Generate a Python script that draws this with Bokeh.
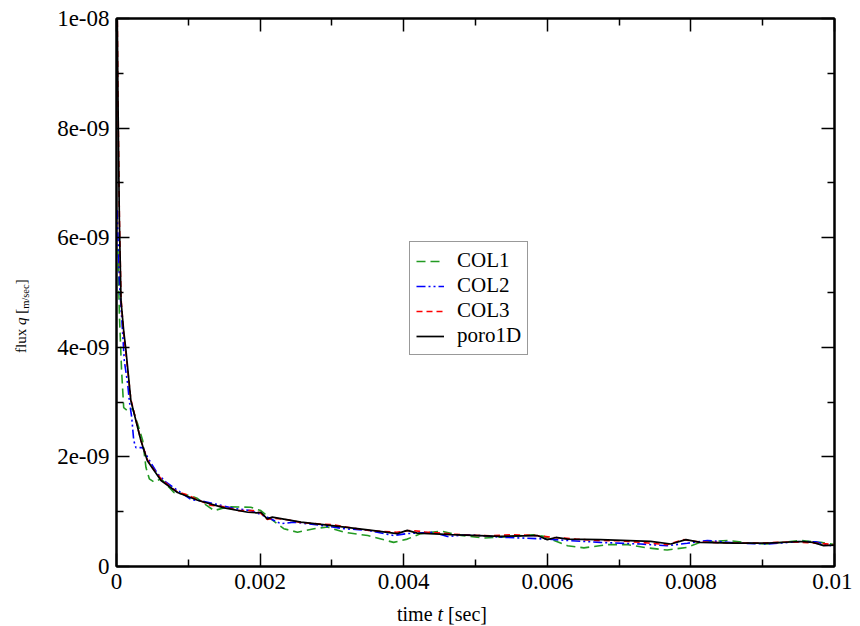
import numpy as np
from bokeh.plotting import figure
from bokeh.models import (Range1d, LinearAxis, FixedTicker, CustomJSTickFormatter,
                          Legend, LegendItem, Div)
from bokeh.layouts import row, column
from bokeh.embed import file_html
from bokeh.resources import INLINE

# ---------------- data (flux values in units of 1e-9 m/sec) ----------------
col1_t = [0.00002, 0.00004, 0.00007, 0.0001, 0.000156, 0.000225, 0.000295, 0.000365,
          0.00041, 0.000457, 0.000526, 0.00062, 0.0008, 0.00104, 0.00113, 0.00125,
          0.00136, 0.00155, 0.00187, 0.00201, 0.00215, 0.00233, 0.00252, 0.00275,
          0.00294, 0.00317, 0.0035, 0.00386, 0.00405, 0.00424, 0.00452, 0.0048,
          0.00511, 0.00535, 0.00581, 0.00595, 0.00628, 0.00651, 0.00684, 0.00711,
          0.00739, 0.00767, 0.00795, 0.00813, 0.00851, 0.00883, 0.00906, 0.00953,
          0.00981, 0.01]
col1_q = [5.8, 4.6, 3.6, 2.9, 2.84, 2.88, 2.6, 2.3,
          1.81, 1.60, 1.54, 1.60, 1.35, 1.29, 1.24, 1.12,
          1.02, 1.09, 1.08, 1.02, 0.87, 0.69, 0.625, 0.69,
          0.72, 0.625, 0.565, 0.44, 0.50, 0.60, 0.645, 0.565,
          0.52, 0.535, 0.58, 0.55, 0.38, 0.34, 0.40, 0.40,
          0.34, 0.30, 0.35, 0.44, 0.475, 0.425, 0.41, 0.475,
          0.44, 0.40]

col2_t = [0.00001, 0.00004, 0.000086, 0.000109, 0.000156, 0.000178, 0.000212, 0.00024,
          0.00027, 0.000365, 0.000434, 0.000573, 0.00069, 0.00085, 0.00104, 0.001176,
          0.00164, 0.00187, 0.0021, 0.00229, 0.00247, 0.00285, 0.00317, 0.0035,
          0.00386, 0.00405, 0.00442, 0.00461, 0.00489, 0.00535, 0.006, 0.00628,
          0.00674, 0.0073, 0.00767, 0.00795, 0.00823, 0.0086, 0.00906, 0.00953,
          0.00974, 0.01]
col2_q = [6.5, 5.2, 4.25, 3.75, 3.33, 3.03, 2.72, 2.30,
          2.17, 2.17, 1.99, 1.69, 1.54, 1.39, 1.22, 1.20,
          1.06, 1.02, 0.90, 0.78, 0.81, 0.75, 0.69, 0.66,
          0.565, 0.60, 0.625, 0.547, 0.58, 0.535, 0.50, 0.475,
          0.44, 0.41, 0.38, 0.425, 0.475, 0.43, 0.41, 0.456,
          0.45, 0.365]

col3_t = [0.000008, 0.00002, 0.00004, 0.000063, 0.0001, 0.00013, 0.0002, 0.00034,
          0.00043, 0.0005, 0.00062, 0.00075, 0.00085, 0.001, 0.00113, 0.0013,
          0.0015, 0.0017, 0.0019, 0.00201, 0.0021, 0.0022, 0.0024, 0.00257,
          0.0028, 0.00303, 0.0032, 0.0035, 0.0037, 0.0039, 0.0041, 0.0043,
          0.0046, 0.0049, 0.0052, 0.0055, 0.0058, 0.0061, 0.0064, 0.0067,
          0.007, 0.0074, 0.00767, 0.0079, 0.0081, 0.0085, 0.009, 0.0094,
          0.0097, 0.01]
col3_q = [10.5, 8.6, 6.4, 4.9, 4.25, 3.9, 3.05, 2.3,
          1.95, 1.80, 1.60, 1.45, 1.36, 1.30, 1.22, 1.12,
          1.09, 1.02, 1.02, 0.97, 0.86, 0.88, 0.85, 0.80,
          0.78, 0.76, 0.72, 0.66, 0.64, 0.625, 0.66, 0.63,
          0.60, 0.57, 0.56, 0.58, 0.57, 0.53, 0.50, 0.475,
          0.47, 0.43, 0.40, 0.49, 0.45, 0.43, 0.43, 0.45,
          0.43, 0.40]

poro_t = [0.000008, 0.00002, 0.00004, 0.000063, 0.0001, 0.000132, 0.0002, 0.00034,
          0.00043, 0.00062, 0.00085, 0.00113, 0.0015, 0.00183, 0.00195, 0.00201,
          0.0021, 0.00217, 0.00257, 0.00303, 0.0035, 0.00391, 0.00405, 0.00419,
          0.00466, 0.00535, 0.00586, 0.006, 0.00612, 0.00628, 0.00674, 0.00744,
          0.00772, 0.00793, 0.00813, 0.0086, 0.00906, 0.00953, 0.0097, 0.00985,
          0.01]
poro_q = [10.5, 8.6, 6.3, 4.85, 4.3, 3.94, 3.03, 2.30,
          1.93, 1.57, 1.35, 1.21, 1.07, 0.99, 0.98, 0.99,
          0.87, 0.90, 0.81, 0.74, 0.67, 0.60, 0.66, 0.61,
          0.58, 0.55, 0.565, 0.49, 0.53, 0.50, 0.49, 0.46,
          0.41, 0.49, 0.44, 0.425, 0.425, 0.456, 0.44, 0.38,
          0.39]

series_names = ["COL1", "COL2", "COL3", "poro1D"]

x_ticks = [0, 0.002, 0.004, 0.006, 0.008, 0.01]
x_tick_labels = ["0", "0.002", "0.004", "0.006", "0.008", "0.01"]
y_ticks = [0, 2e-9, 4e-9, 6e-9, 8e-9, 1e-8]
y_tick_labels = ["0", "2e-09", "4e-09", "6e-09", "8e-09", "1e-08"]

NANO = 1e-9

# ---------------- layout constants ----------------
YDIV_W = 44            # column holding the rotated y title
W, H = 808, 602        # figure
BL, BR, BT, BB = 72, 18, 18, 36
XDIV_H = 22
SERIF = "Liberation Serif"

p = figure(width=W, height=H, x_range=Range1d(0, 0.01), y_range=Range1d(0, 1e-8),
           output_backend="svg", toolbar_location=None,
           min_border_left=BL, min_border_right=BR, min_border_top=BT, min_border_bottom=BB)
p.xgrid.visible = False
p.ygrid.visible = False
p.outline_line_color = "black"
p.outline_line_width = 2
p.background_fill_color = "white"
p.border_fill_color = "white"

js_code = """
let best = 0, bd = Infinity;
for (let i = 0; i < tv.length; i++) {
  const d = Math.abs(tv[i] - tick);
  if (d < bd) { bd = d; best = i; }
}
return tl[best];
"""
x_minor = [(a + b) / 2 for a, b in zip(x_ticks, x_ticks[1:])]
y_minor = [(a + b) / 2 for a, b in zip(y_ticks, y_ticks[1:])]
xticker = FixedTicker(ticks=x_ticks, minor_ticks=x_minor)
yticker = FixedTicker(ticks=y_ticks, minor_ticks=y_minor)
xfmt = CustomJSTickFormatter(args=dict(tv=x_ticks, tl=x_tick_labels), code=js_code)
yfmt = CustomJSTickFormatter(args=dict(tv=y_ticks, tl=y_tick_labels), code=js_code)


def style_axis(ax, show_labels=True):
    ax.axis_line_color = "black"
    ax.axis_line_width = 2
    ax.major_tick_in = 13
    ax.major_tick_out = 0
    ax.minor_tick_in = 7
    ax.minor_tick_out = 0
    ax.major_tick_line_color = "black"
    ax.minor_tick_line_color = "black"
    ax.major_tick_line_width = 1.5
    ax.minor_tick_line_width = 1.5
    ax.major_label_text_font = SERIF
    if show_labels:
        ax.major_label_text_font_size = "23px"
        ax.major_label_text_color = "black"
    else:
        ax.major_label_text_font_size = "1px"
        ax.major_label_text_color = None
        ax.major_label_standoff = 0


p.xaxis.ticker = xticker
p.xaxis.formatter = xfmt
p.yaxis.ticker = yticker
p.yaxis.formatter = yfmt
for ax in p.xaxis:
    style_axis(ax)
    ax.major_label_standoff = 7
for ax in p.yaxis:
    style_axis(ax)
    ax.major_label_standoff = 7

top = LinearAxis(ticker=xticker, formatter=xfmt)
style_axis(top, show_labels=False)
p.add_layout(top, "above")
right = LinearAxis(ticker=yticker, formatter=yfmt)
style_axis(right, show_labels=False)
p.add_layout(right, "right")

# ---------------- curves ----------------
r1 = p.line(col1_t, np.array(col1_q) * NANO, line_color="#229a22", line_width=1.6, line_dash="9 5")
r2 = p.line(col2_t, np.array(col2_q) * NANO, line_color="#0000ff", line_width=1.6, line_dash="9 3 2 3 2 3")
r3 = p.line(col3_t, np.array(col3_q) * NANO, line_color="#ff0000", line_width=1.6, line_dash="6 4")
r4 = p.line(poro_t, np.array(poro_q) * NANO, line_color="black", line_width=1.7)

legend = Legend(items=[LegendItem(label=n, renderers=[r]) for n, r in zip(series_names, [r1, r2, r3, r4])],
                location=(293, 211), orientation="vertical",
                label_text_font=SERIF, label_text_font_size="21px", label_text_color="black",
                glyph_width=28, glyph_height=20, label_height=20, label_standoff=13,
                spacing=0, padding=6, margin=0,
                border_line_color="#333333", border_line_width=1,
                background_fill_color="white", background_fill_alpha=1.0)
p.add_layout(legend)

# ---------------- axis titles (HTML, for italic and subscript parts) ----------------
font_css = "font-family: 'Liberation Serif', 'Times New Roman', Times, serif; color: black;"
ytitle_html = (
    f'<div style="position:relative; width:{YDIV_W}px; height:{H}px;">'
    '<div style="position:absolute; left:14px; top:353px; transform-origin:0 0; '
    'transform:rotate(-90deg); white-space:nowrap; font-size:15px; line-height:1; '
    f'{font_css}">flux <i>q</i> [<span style="font-size:10.5px; vertical-align:-3px;">m/sec</span>]</div>'
    '</div>'
)
xtitle_html = (
    f'<div style="position:relative; width:{W}px; height:{XDIV_H}px;">'
    f'<div style="position:absolute; left:{397 - YDIV_W}px; top:2px; white-space:nowrap; '
    f'font-size:20px; line-height:1; {font_css}">time <i>t</i> [sec]</div>'
    '</div>'
)
ydiv = Div(text=ytitle_html, width=YDIV_W, height=H, margin=0)
xdiv = Div(text=xtitle_html, width=W, height=XDIV_H, margin=0)

layout = row(ydiv, column(p, xdiv, spacing=0), spacing=0)

open("out.html", "w").write(file_html(layout, INLINE))
